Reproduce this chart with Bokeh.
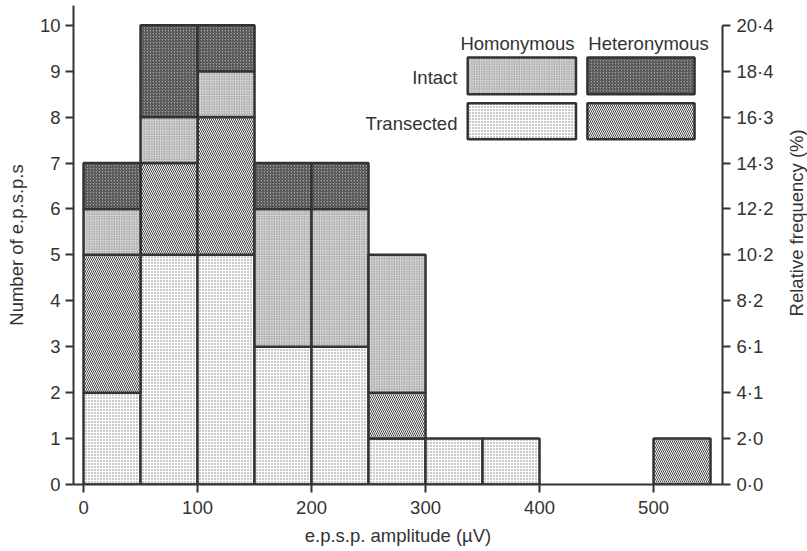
import math
from bokeh.plotting import figure
from bokeh.layouts import row
from bokeh.models import Range1d, LinearAxis, FixedTicker, ColumnDataSource
from bokeh.embed import file_html
from bokeh.resources import INLINE
from bokeh.core.properties import value

# ---------------- data ----------------
bin_left = [0, 50, 100, 150, 200, 250, 300, 350, 400, 450, 500]
bin_width = 50
transected_homonymous = [2, 5, 5, 3, 3, 1, 1, 1, 0, 0, 0]
transected_heteronymous = [3, 2, 3, 0, 0, 1, 0, 0, 0, 0, 1]
intact_homonymous = [1, 1, 1, 3, 3, 3, 0, 0, 0, 0, 0]
intact_heteronymous = [1, 2, 1, 1, 1, 0, 0, 0, 0, 0, 0]
x_ticks = [0, 100, 200, 300, 400, 500]
y_ticks = list(range(11))
col_names = ["Homonymous", "Heteronymous"]
row_names = ["Intact", "Transected"]
right_title = "Relative frequency (%)"

total = (sum(transected_homonymous) + sum(transected_heteronymous)
         + sum(intact_homonymous) + sum(intact_heteronymous))

FONT = "Liberation Sans"
TXT = "#333333"
LINE = "#333333"

styles = {
    "th": dict(fill_color="white", hatch_pattern="dot", hatch_color="#777777", hatch_scale=3, hatch_weight=1),
    "te": dict(fill_color="white", hatch_pattern="left_diagonal_line", hatch_color="#444444", hatch_scale=4, hatch_weight=1),
    "ih": dict(fill_color="#d2d2d2", hatch_pattern="dot", hatch_color="#777777", hatch_scale=2.5, hatch_weight=1),
    "ie": dict(fill_color="#9c9c9c", hatch_pattern="right_diagonal_line", hatch_color="#3a3a3a", hatch_scale=3, hatch_weight=1),
}

p = figure(width=785, height=551, x_range=Range1d(-8.8, 560.5), y_range=Range1d(0, 10.43),
           output_backend="svg", toolbar_location=None,
           min_border_left=73, min_border_right=63, min_border_top=5, min_border_bottom=67,
           x_axis_label="e.p.s.p. amplitude (µV)", y_axis_label="Number of e.p.s.p.s")
p.outline_line_color = None
p.grid.visible = False
p.background_fill_color = "white"
p.border_fill_color = "white"

# stacked bars
series = [("th", transected_homonymous), ("te", transected_heteronymous),
          ("ih", intact_homonymous), ("ie", intact_heteronymous)]
bottoms = [0] * len(bin_left)
for key, vals in series:
    L, R, B, T = [], [], [], []
    for i, v in enumerate(vals):
        if v > 0:
            L.append(bin_left[i]); R.append(bin_left[i] + bin_width)
            B.append(bottoms[i]); T.append(bottoms[i] + v)
        bottoms[i] += v
    src = ColumnDataSource(dict(left=L, right=R, bottom=B, top=T))
    p.quad(left="left", right="right", bottom="bottom", top="top", source=src,
           line_color=LINE, line_width=2.5, **styles[key])

# legend (layout constants in data units)
leg_cols = [(337, 432), (442, 536)]
leg_rows = [(8.50, 9.30), (7.52, 8.30)]
leg_keys = [["ih", "ie"], ["th", "te"]]
for r, (b, t) in enumerate(leg_rows):
    for c, (l, rr) in enumerate(leg_cols):
        p.quad(left=[l], right=[rr], bottom=[b], top=[t], line_color=LINE, line_width=2.5,
               **styles[leg_keys[r][c]])
p.text(x=[380.7, 495.6], y=[9.61, 9.61], text=col_names, text_font=value(FONT),
       text_font_size="18.5px", text_color=TXT, text_align="center", text_baseline="middle")
p.text(x=[328, 328], y=[8.87, 7.86], text=row_names, text_font=value(FONT),
       text_font_size="18.5px", text_color=TXT, text_align="right", text_baseline="middle")

# axes
def style_axis(ax):
    ax.axis_line_color = LINE
    ax.axis_line_width = 2
    ax.major_tick_line_color = LINE
    ax.major_tick_line_width = 2
    ax.major_tick_out = 8
    ax.major_tick_in = 0
    ax.minor_tick_line_color = None
    ax.major_label_text_font = FONT
    ax.major_label_text_font_size = "18.5px"
    ax.major_label_text_color = TXT
    ax.axis_label_text_font = FONT
    ax.axis_label_text_font_size = "18.5px"
    ax.axis_label_text_font_style = "normal"
    ax.axis_label_text_color = TXT

xa = p.xaxis[0]
style_axis(xa)
xa.ticker = FixedTicker(ticks=x_ticks)
xa.major_label_standoff = 8
xa.axis_label_standoff = 8

ya = p.yaxis[0]
style_axis(ya)
ya.ticker = FixedTicker(ticks=y_ticks)
ya.major_label_standoff = 5
ya.axis_label_standoff = 10

ra = LinearAxis(ticker=FixedTicker(ticks=y_ticks), bounds=(0, 10))
style_axis(ra)
ra.major_label_overrides = {t: f"{t * 100 / total:.1f}".replace(".", "·") for t in y_ticks}
ra.major_label_standoff = 6
p.add_layout(ra, "right")

# narrow strip holding the right-hand axis title, reading bottom to top
q = figure(width=22, height=551, x_range=Range1d(0, 1), y_range=Range1d(0, 551),
           output_backend="svg", toolbar_location=None,
           min_border_left=0, min_border_right=0, min_border_top=0, min_border_bottom=0,
           x_axis_location=None, y_axis_location=None)
q.outline_line_color = None
q.grid.visible = False
q.background_fill_color = "white"
q.border_fill_color = "white"
q.text(x=[0.5], y=[301], text=[right_title], angle=math.pi / 2, text_font=value(FONT),
       text_font_size="18.5px", text_color=TXT, text_align="center", text_baseline="middle")

layout = row(p, q, spacing=0)
open("out.html", "w").write(file_html(layout, INLINE))
